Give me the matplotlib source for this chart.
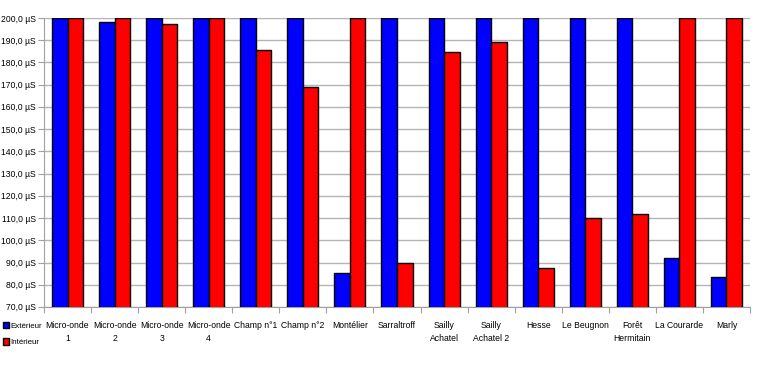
import matplotlib
matplotlib.use("Agg")
import matplotlib.pyplot as plt
import numpy as np
from matplotlib.patches import Patch

categories = ["Micro-onde\n1", "Micro-onde\n2", "Micro-onde\n3", "Micro-onde\n4",
              "Champ n°1", "Champ n°2", "Montélier", "Sarraltroff",
              "Sailly\nAchatel", "Sailly\nAchatel 2", "Hesse", "Le Beugnon",
              "Forêt\nHermitain", "La Courarde", "Marly"]
exterieur = [200, 198.2, 200, 200, 200, 200, 85.3, 200, 200, 200, 200, 200, 200, 92.0, 83.5]
interieur = [200, 200, 197.3, 200, 185.6, 169.0, 200, 89.8, 184.7, 189.2, 87.5, 110.0, 111.8, 200, 200]
yticks = list(range(70, 201, 10))

plt.rcParams['font.family'] = ['Liberation Sans', 'DejaVu Sans']

fig = plt.figure(figsize=(7.74, 3.73), dpi=100)
ax = fig.add_axes([44/774, 1 - 307/373, (750-44)/774, (307-18)/373])

x = np.arange(len(categories))
w = 0.33
ax.bar(x - w/2, exterieur, w, color="#0000ff", edgecolor="black", linewidth=1, zorder=3)
ax.bar(x + w/2, interieur, w, color="#ff0000", edgecolor="black", linewidth=1, zorder=3)

ax.set_xlim(-0.5, len(categories) - 0.5)
ax.set_ylim(70, 200)
ax.set_yticks(yticks)
ax.set_yticklabels([f"{v},0 µS" for v in yticks], fontsize=6.2)
ax.yaxis.grid(True, color="#b4b4b4", linewidth=1, zorder=0)

ax.set_xticks(np.arange(len(categories) + 1) - 0.5)
ax.set_xticklabels([])
ax.set_xticks(x, minor=True)
ax.set_xticklabels(categories, minor=True, fontsize=6.2, linespacing=1.6)
ax.tick_params(axis="x", which="minor", length=0, pad=10)
ax.tick_params(axis="x", which="major", length=4, color="#a0a0a0")
ax.tick_params(axis="y", length=4, color="#a0a0a0", pad=2)

for s in ["top", "right"]:
    ax.spines[s].set_visible(False)
for s in ["left", "bottom"]:
    ax.spines[s].set_color("#a0a0a0")

handles = [Patch(facecolor="#0000ff", edgecolor="black", label="Extérieur"),
           Patch(facecolor="#ff0000", edgecolor="black", label="Intérieur")]
fig.legend(handles=handles, loc="upper left", bbox_to_anchor=(0.002, 1 - 320/373),
           frameon=False, fontsize=5.7, handlelength=0.8, handleheight=0.9,
           handletextpad=0.15, labelspacing=1.1, borderpad=0.2, borderaxespad=0)

fig.savefig("out.png", dpi=100)
